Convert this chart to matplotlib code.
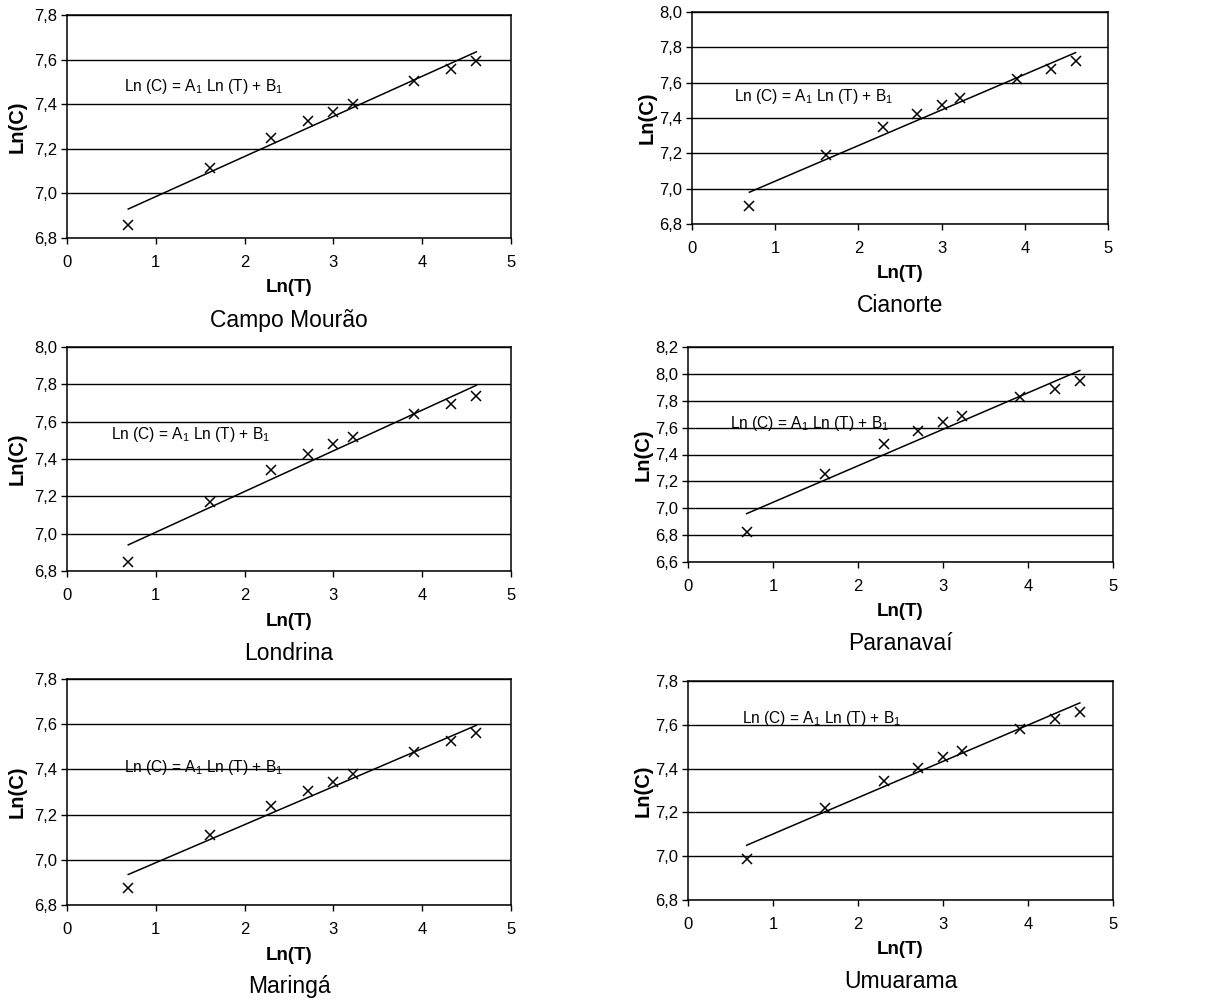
import numpy as np
import matplotlib
matplotlib.use("Agg")
import matplotlib.pyplot as plt
from matplotlib.ticker import FuncFormatter, MultipleLocator

plt.rcParams['font.family'] = ['Liberation Sans', 'DejaVu Sans']
plt.rcParams['mathtext.fontset'] = 'custom'
plt.rcParams['mathtext.rm'] = 'Liberation Sans'
plt.rcParams['mathtext.it'] = 'Liberation Sans'

# Ln(T) values (T = 2, 5, 10, 15, 20, 25, 50, 75, 100)
ln_t = [0.69, 1.61, 2.30, 2.71, 3.00, 3.22, 3.91, 4.32, 4.61]

cities = ["Campo Mourão", "Cianorte", "Londrina", "Paranavaí", "Maringá", "Umuarama"]

ln_c_campo = [6.86, 7.115, 7.25, 7.325, 7.365, 7.40, 7.505, 7.56, 7.595]
ln_c_cianorte = [6.90, 7.19, 7.35, 7.42, 7.475, 7.515, 7.62, 7.68, 7.72]
ln_c_londrina = [6.85, 7.17, 7.34, 7.425, 7.48, 7.52, 7.64, 7.695, 7.735]
ln_c_paranavai = [6.82, 7.255, 7.475, 7.575, 7.64, 7.69, 7.825, 7.89, 7.945]
ln_c_maringa = [6.875, 7.11, 7.24, 7.305, 7.345, 7.38, 7.475, 7.525, 7.56]
ln_c_umuarama = [6.985, 7.22, 7.345, 7.405, 7.455, 7.48, 7.58, 7.625, 7.66]

# fitted line values at first and last Ln(T)
fit_x = [0.69, 4.61]
fit_campo = [6.93, 7.635]
fit_cianorte = [6.98, 7.77]
fit_londrina = [6.94, 7.795]
fit_paranavai = [6.96, 8.025]
fit_maringa = [6.935, 7.595]
fit_umuarama = [7.05, 7.70]

y_limits = [(6.8, 7.8), (6.8, 8.0), (6.8, 8.0), (6.6, 8.2), (6.8, 7.8), (6.8, 7.8)]
eq_pos = [(0.64, 7.48), (0.50, 7.52), (0.50, 7.53), (0.50, 7.63), (0.64, 7.41), (0.63, 7.63)]

series = [ln_c_campo, ln_c_cianorte, ln_c_londrina, ln_c_paranavai, ln_c_maringa, ln_c_umuarama]
fits = [fit_campo, fit_cianorte, fit_londrina, fit_paranavai, fit_maringa, fit_umuarama]

W, H = 1207, 1000
# axes boxes in pixels: left, top, right, bottom
boxes = [(67, 15, 511, 238), (692, 12, 1108, 224),
         (67, 347, 511, 571), (688, 347, 1113, 562),
         (67, 679, 511, 905), (688, 681, 1113, 900)]
ylab_off = [50, 45, 50, 45, 50, 45]

fig = plt.figure(figsize=(W / 100, H / 100), dpi=100)

comma = FuncFormatter(lambda v, p: f"{v:.1f}".replace(".", ","))

for i in range(6):
    l, t, r, b = boxes[i]
    ax = fig.add_axes([l / W, 1 - b / H, (r - l) / W, (b - t) / H])
    ax.plot(fit_x, fits[i], color='black', lw=1.1)
    ax.plot(ln_t, series[i], linestyle='none', marker='x', color='black', ms=6.5, mew=1.1)
    ax.set_xlim(0, 5)
    ax.set_ylim(*y_limits[i])
    ax.xaxis.set_major_locator(MultipleLocator(1))
    ax.yaxis.set_major_locator(MultipleLocator(0.2))
    ax.yaxis.set_major_formatter(comma)
    ax.grid(axis='y', color='black', lw=1)
    ax.set_axisbelow(True)
    for s in ax.spines.values():
        s.set_linewidth(1.1)
        s.set_color('black')
    ax.tick_params(direction='out', length=4, width=1, labelsize=12, colors='black')
    ax.tick_params(axis='x', pad=8)
    ax.tick_params(axis='y', pad=3)
    fig.text((l + r) / 2 / W, 1 - (b + 50) / H, "Ln(T)", fontsize=13.5,
             fontweight='bold', ha='center', va='center')
    fig.text((l - ylab_off[i]) / W, 1 - (t + b) / 2 / H, "Ln(C)", fontsize=14.5,
             fontweight='bold', ha='center', va='center', rotation=90)
    ex, ey = eq_pos[i]
    ax.text(ex, ey, r"Ln (C) = A$_1$ Ln (T) + B$_1$", fontsize=11.2, va='center', ha='left')
    fig.text((l + r) / 2 / W, 1 - (b + 82) / H, cities[i], fontsize=16.5,
             ha='center', va='center')

fig.savefig("out.png", dpi=100, facecolor='white')
